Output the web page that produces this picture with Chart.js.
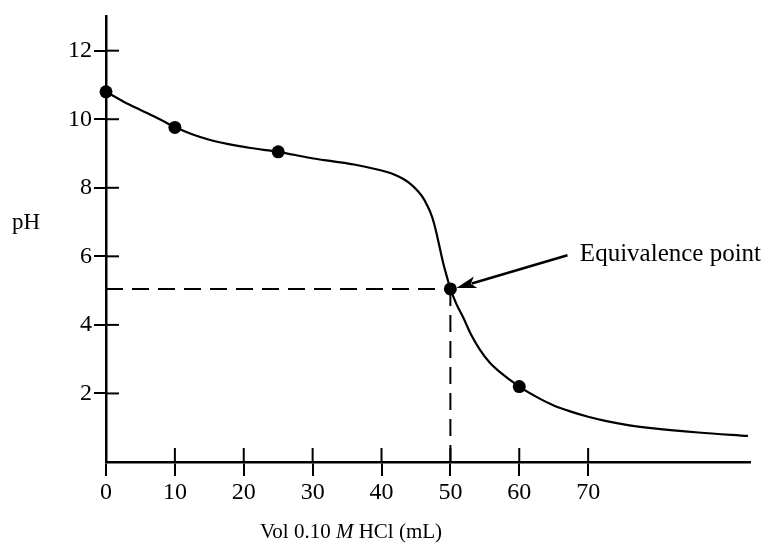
<!DOCTYPE html>
<html>
<head>
<meta charset="utf-8">
<script src="https://cdn.jsdelivr.net/npm/chart.js@4.4.1/dist/chart.umd.min.js"></script>
<style>
html,body{margin:0;padding:0;background:#fff;}
#wrap{width:777px;height:546px;}
</style>
</head>
<body>
<div id="wrap"><canvas id="c" width="777" height="546"></canvas></div>
<script>
// ---- data ----
const curveX   = [0, 2.5, 5, 7.5, 10, 12.5, 15, 17.6, 21, 25, 29.7, 33, 36, 40.8, 42, 43.3, 44.4, 45.3, 46.0, 46.6, 47.1, 47.6, 48.0, 48.4, 49.0, 49.5, 50, 50.9, 51.9, 53, 54.3, 55.7, 57.2, 60, 62.5, 65, 67.5, 70, 72.5, 76, 79.5, 86, 93.2];
const curvePH  = [10.8, 10.52, 10.27, 10.03, 9.77, 9.56, 9.4, 9.28, 9.16, 9.05, 8.87, 8.77, 8.68, 8.46, 8.37, 8.24, 8.08, 7.9, 7.72, 7.5, 7.28, 6.98, 6.66, 6.3, 5.77, 5.4, 5.05, 4.6, 4.2, 3.72, 3.27, 2.9, 2.62, 2.2, 1.9, 1.65, 1.47, 1.32, 1.2, 1.07, 0.98, 0.86, 0.76];
const markerX  = [0, 10, 25, 50, 60];
const markerPH = [10.8, 9.76, 9.05, 5.05, 2.2];
const xTicks   = [0, 10, 20, 30, 40, 50, 60, 70];
const yTicks   = [2, 4, 6, 8, 10, 12];
const eqX = 50, eqPH = 5.05;
const labelText = "Equivalence point";
const labelAt   = [68.8, 5.86];   // data coords of text start / baseline
const arrowFrom = [67.0, 6.03];   // data coords of arrow tail

const curveData  = curveX.map((x,i)=>({x:x, y:curvePH[i]}));
const markerData = markerX.map((x,i)=>({x:x, y:markerPH[i]}));
const hDash = [{x:0,y:eqPH},{x:eqX,y:eqPH}];
const vDash = [{x:eqX,y:eqPH},{x:eqX,y:0}];

const SERIF = "'Liberation Serif', 'Times New Roman', serif";

const overlay = {
  id:'overlay',
  afterDraw(chart){
    const ctx = chart.ctx, xs = chart.scales.x, ys = chart.scales.y;
    ctx.save();
    ctx.strokeStyle = '#000'; ctx.fillStyle = '#000';
    ctx.lineWidth = 2;
    const x0 = xs.getPixelForValue(0), y0 = ys.getPixelForValue(0);
    yTicks.forEach(v=>{
      const py = ys.getPixelForValue(v);
      ctx.beginPath(); ctx.moveTo(x0, py); ctx.lineTo(x0+13, py); ctx.stroke();
    });
    xTicks.forEach(v=>{
      if(v===0) return;
      const px = xs.getPixelForValue(v);
      ctx.beginPath(); ctx.moveTo(px, y0); ctx.lineTo(px, y0-14); ctx.stroke();
    });
    // pH label
    ctx.font = '23px ' + SERIF;
    ctx.textBaseline = 'alphabetic'; ctx.textAlign = 'left';
    ctx.fillText('pH', 12, 229);
    // x title with italic M
    const parts = [['Vol 0.10 ', ''], ['M', 'italic '], [' HCl (mL)', '']];
    const size = 21;
    let total = 0;
    parts.forEach(p=>{ ctx.font = p[1] + size + 'px ' + SERIF; total += ctx.measureText(p[0]).width; });
    let tx = 351 - total/2;
    parts.forEach(p=>{ ctx.font = p[1] + size + 'px ' + SERIF; ctx.fillText(p[0], tx, 538); tx += ctx.measureText(p[0]).width; });
    // annotation text
    ctx.font = '25px ' + SERIF;
    ctx.fillText(labelText, xs.getPixelForValue(labelAt[0]), ys.getPixelForValue(labelAt[1]));
    // arrow
    const ax = xs.getPixelForValue(arrowFrom[0]), ay = ys.getPixelForValue(arrowFrom[1]);
    const ex = xs.getPixelForValue(eqX) + 6, ey = ys.getPixelForValue(eqPH) - 1;
    const ang = Math.atan2(ey-ay, ex-ax);
    const hl = 20, hw = 6;
    const bx = ex - hl*Math.cos(ang), by = ey - hl*Math.sin(ang);
    ctx.lineWidth = 2.6;
    ctx.beginPath(); ctx.moveTo(ax, ay); ctx.lineTo(bx + 4*Math.cos(ang), by + 4*Math.sin(ang)); ctx.stroke();
    ctx.beginPath();
    ctx.moveTo(ex, ey);
    ctx.lineTo(bx + hw*Math.sin(ang), by - hw*Math.cos(ang));
    ctx.lineTo(bx + 5*Math.cos(ang), by + 5*Math.sin(ang));
    ctx.lineTo(bx - hw*Math.sin(ang), by + hw*Math.cos(ang));
    ctx.closePath(); ctx.fill();
    ctx.restore();
  }
};

new Chart(document.getElementById('c'), {
  type: 'scatter',
  data: {
    datasets: [
      { data: markerData, showLine:false, pointRadius:6.5, pointBackgroundColor:'#000', pointBorderColor:'#000', pointBorderWidth:0, order:0, clip:false },
      { data: curveData, showLine:true, pointRadius:0, borderColor:'#000', borderWidth:2.2, cubicInterpolationMode:'monotone', order:1 },
      { data: hDash, showLine:true, pointRadius:0, borderColor:'#000', borderWidth:2, borderDash:[17,9], order:2 },
      { data: vDash, showLine:true, pointRadius:0, borderColor:'#000', borderWidth:2, borderDash:[17,9], order:2 }
    ]
  },
  options: {
    responsive:false, animation:false, devicePixelRatio:1,
    layout:{ padding:{ left:0, right:27, top:15, bottom:0 } },
    plugins:{ legend:{display:false}, tooltip:{enabled:false} },
    scales:{
      x:{
        type:'linear', min:0, max:93.5,
        afterBuildTicks(s){ s.ticks = xTicks.map(v=>({value:v})); },
        afterFit(s){ s.height = 84; },
        grid:{ display:true, drawOnChartArea:false, drawTicks:true, tickLength:14, color:'#000', lineWidth:2 },
        border:{ display:true, color:'#000', width:2.5 },
        ticks:{ color:'#000', font:{ family:SERIF, size:24 }, padding:2, maxRotation:0 }
      },
      y:{
        type:'linear', min:0, max:13,
        afterBuildTicks(s){ s.ticks = yTicks.map(v=>({value:v})); },
        afterFit(s){ s.width = 106; },
        grid:{ display:true, drawOnChartArea:false, drawTicks:true, tickLength:12, color:'#000', lineWidth:2 },
        border:{ display:true, color:'#000', width:2.5 },
        ticks:{ color:'#000', font:{ family:SERIF, size:24 }, padding:2 }
      }
    }
  },
  plugins:[overlay]
});
</script>
</body>
</html>
